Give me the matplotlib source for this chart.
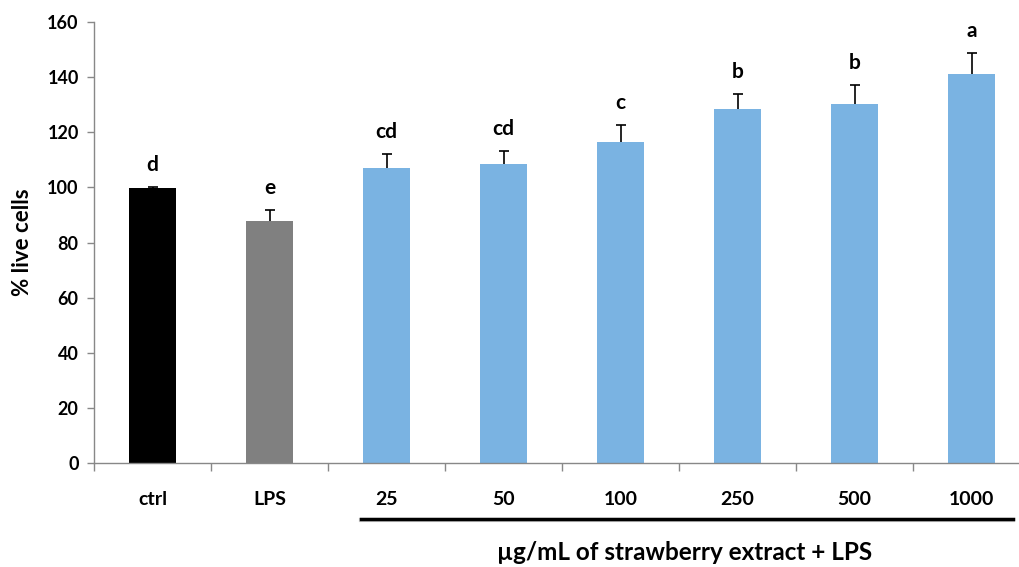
import matplotlib
matplotlib.use("Agg")
import matplotlib.pyplot as plt
import numpy as np

categories = ["ctrl", "LPS", "25", "50", "100", "250", "500", "1000"]
values = [99.8, 87.8, 107.1, 108.4, 116.6, 128.6, 130.3, 141.0]
errors = [0.3, 4.0, 4.9, 4.8, 6.0, 5.2, 7.0, 7.9]
letters = ["d", "e", "cd", "cd", "c", "b", "b", "a"]
colors = ["#000000", "#808080"] + ["#7AB3E2"] * 6
yticks = [0, 20, 40, 60, 80, 100, 120, 140, 160]

plt.rcParams['font.family'] = ['Lato', 'DejaVu Sans']
plt.rcParams['font.weight'] = 'bold'

fig = plt.figure(figsize=(10.19, 5.67), dpi=100)
ax = fig.add_axes([94/1019, (567-463)/567, 936/1019, 441/567])

x = np.arange(len(categories))
vals = np.array(values)
errs = np.array(errors)
ax.bar(x, vals, width=0.4, color=colors, zorder=2)
ax.errorbar(x, vals, yerr=[np.zeros(len(errs)), errs], fmt='none',
            ecolor='black', elinewidth=1.2, capsize=0, zorder=1)
ax.plot(x, vals + errs, ls='none', marker='_', markersize=7,
        markeredgewidth=1.2, color='black', zorder=3)
for xi, v, e, l in zip(x, vals, errs, letters):
    ax.text(xi, v + e + 8, l, ha='center', va='center', fontsize=15, fontweight='bold')

ax.set_xlim(-0.5, len(categories) - 0.5)
ax.set_ylim(0, 160)
ax.set_yticks(yticks)
ax.set_yticklabels([str(t) for t in yticks], fontsize=13, fontweight='bold')
ax.set_xticks(x)
ax.set_xticklabels(categories, fontsize=14, fontweight='bold')
ax.set_xticks(np.arange(-0.5, len(categories) + 0.5, 1), minor=True)
ax.tick_params(axis='x', which='major', length=0, pad=20)
ax.tick_params(axis='x', which='minor', length=6, color='#888888', width=1)
ax.tick_params(axis='y', length=5, color='#888888', width=1, pad=6)

for s in ['top', 'right']:
    ax.spines[s].set_visible(False)
for s in ['left', 'bottom']:
    ax.spines[s].set_color('#888888')
    ax.spines[s].set_linewidth(1.0)

ax.set_ylabel("% live cells", fontsize=16, fontweight='bold', labelpad=10)

# bracket line under the extract doses
fig.add_artist(plt.Line2D([361/1019, 1013/1019], [1 - 520/567, 1 - 520/567],
                          color='#999999', linewidth=3, alpha=0.5,
                          transform=fig.transFigure))
fig.add_artist(plt.Line2D([361/1019, 1013/1019], [1 - 518.5/567, 1 - 518.5/567],
                          color='black', linewidth=2.5, transform=fig.transFigure))
fig.text(685/1019, 1 - 552/567, "µg/mL of strawberry extract + LPS",
         ha='center', va='center', fontsize=17.5, fontweight='bold')

fig.savefig("out.png", dpi=100)
